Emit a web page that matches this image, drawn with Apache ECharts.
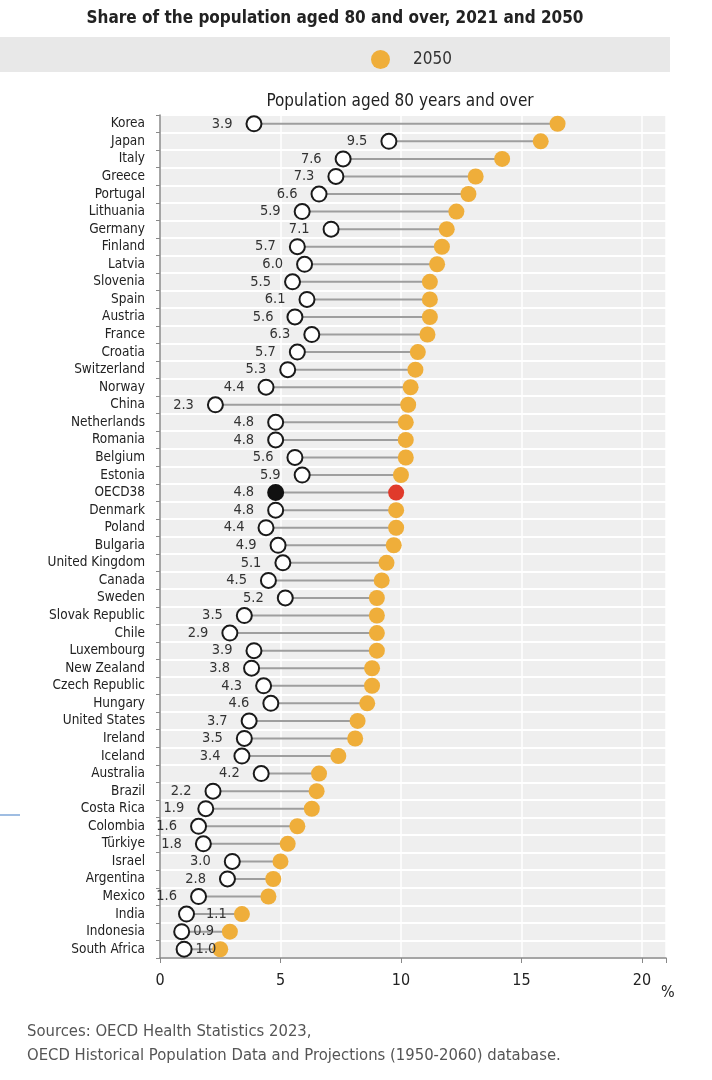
<!DOCTYPE html>
<html>
<head>
<meta charset="utf-8">
<script src="https://cdn.jsdelivr.net/npm/echarts@6/dist/echarts.min.js"></script>
<style>html,body{margin:0;padding:0;background:#fff}#c{width:712px;height:1080px}</style>
</head>
<body>
<div id="c"></div>
<script>
const countries = ["Korea","Japan","Italy","Greece","Portugal","Lithuania","Germany","Finland","Latvia","Slovenia","Spain","Austria","France","Croatia","Switzerland","Norway","China","Netherlands","Romania","Belgium","Estonia","OECD38","Denmark","Poland","Bulgaria","United Kingdom","Canada","Sweden","Slovak Republic","Chile","Luxembourg","New Zealand","Czech Republic","Hungary","United States","Ireland","Iceland","Australia","Brazil","Costa Rica","Colombia","Türkiye","Israel","Argentina","Mexico","India","Indonesia","South Africa"];
const v2021 = [3.9,9.5,7.6,7.3,6.6,5.9,7.1,5.7,6.0,5.5,6.1,5.6,6.3,5.7,5.3,4.4,2.3,4.8,4.8,5.6,5.9,4.8,4.8,4.4,4.9,5.1,4.5,5.2,3.5,2.9,3.9,3.8,4.3,4.6,3.7,3.5,3.4,4.2,2.2,1.9,1.6,1.8,3.0,2.8,1.6,1.1,0.9,1.0];
const v2050 = [16.5,15.8,14.2,13.1,12.8,12.3,11.9,11.7,11.5,11.2,11.2,11.2,11.1,10.7,10.6,10.4,10.3,10.2,10.2,10.2,10.0,9.8,9.8,9.8,9.7,9.4,9.2,9.0,9.0,9.0,9.0,8.8,8.8,8.6,8.2,8.1,7.4,6.6,6.5,6.3,5.7,5.3,5.0,4.7,4.5,3.4,2.9,2.5];
const xTicks = [0,5,10,15,20];
const highlight = "OECD38";
const rightLabelled = {"India":11, "Indonesia":3, "South Africa":3};

const FONT = '"DejaVu Sans Condensed","Roboto",sans-serif';
const chart = echarts.init(document.getElementById('c'));

const d2021 = countries.map((c,i)=>{
  const o = {value:[v2021[i], c]};
  if (c===highlight) o.itemStyle = {color:'#111', borderColor:'#111'};
  if (c in rightLabelled) o.label = {position:'right', distance:rightLabelled[c]};
  return o;
});
const d2050 = countries.map((c,i)=>{
  const o = {value:[v2050[i], c]};
  if (c===highlight) o.itemStyle = {color:'#E03A2B'};
  return o;
});
const dLines = countries.map((c,i)=>[v2021[i], v2050[i], c]);

chart.setOption({
  animation:false,
  backgroundColor:'#fff',
  title:[
    {text:'Share of the population aged 80 and over, 2021 and 2050', left:330, top:5, textAlign:'center',
     textStyle:{fontFamily:FONT, fontWeight:'bold', fontSize:17, color:'#222'}},
    {text:'Population aged 80 years and over', left:395, top:88, textAlign:'center',
     textStyle:{fontFamily:FONT, fontWeight:'normal', fontSize:17, color:'#222'}}
  ],
  graphic:[
    {type:'rect', left:0, top:37, shape:{width:670, height:35}, style:{fill:'#E8E8E8'}, z:-1},
    {type:'line', shape:{x1:0,y1:815,x2:20,y2:815}, style:{stroke:'#7FA7D8', lineWidth:1.5}},
    {type:'text', left:661, top:985, style:{text:'%', font:'16px '+FONT, fill:'#222'}},
    {type:'text', left:27, top:1020, style:{text:'Sources: OECD Health Statistics 2023,\nOECD Historical Population Data and Projections (1950-2060) database.', font:'16.5px '+FONT, fill:'#555', lineHeight:24}}
  ],
  legend:{
    data:[{name:'2050', icon:'circle'}], left:366, top:45, itemWidth:19, itemHeight:19, itemGap:10,
    textStyle:{fontFamily:FONT, fontSize:17, color:'#333', padding:[0,0,0,18]}
  },
  grid:{left:160, right:46, top:115, bottom:122, backgroundColor:'#EFEFEF', show:true, borderWidth:0},
  xAxis:{
    type:'value', min:0, max:21, interval:5,
    axisLine:{show:true, lineStyle:{color:'#888', width:1.5}},
    axisTick:{show:true, length:5, lineStyle:{color:'#888'}},
    axisLabel:{fontFamily:FONT, fontSize:16, color:'#222', margin:15,
      formatter:v=> xTicks.includes(v) ? String(v) : ''},
    splitLine:{show:true, lineStyle:{color:'#fff', width:1.5}}
  },
  yAxis:{
    type:'category', data:countries, inverse:true,
    axisLine:{show:true, lineStyle:{color:'#888', width:1.5}},
    axisTick:{show:true, length:4, interval:0, lineStyle:{color:'#888'}},
    axisLabel:{fontFamily:FONT, fontSize:13.5, color:'#222', margin:15, interval:0},
    splitLine:{show:true, interval:0, lineStyle:{color:'#fff', width:2}}
  },
  series:[
    {
      type:'custom', name:'range', data:dLines, encode:{x:[0,1], y:2}, z:1,
      renderItem:(params, api)=>{
        const a = api.coord([api.value(0), api.value(2)]);
        const b = api.coord([api.value(1), api.value(2)]);
        return {type:'line', shape:{x1:a[0], y1:a[1], x2:b[0], y2:b[1]}, style:{stroke:'#9E9E9E', lineWidth:2}};
      }
    },
    {
      type:'scatter', name:'2021', data:d2021, symbolSize:15, z:3,
      itemStyle:{color:'#fff', borderColor:'#1a1a1a', borderWidth:2, opacity:1},
      label:{show:true, position:'left', distance:13, fontFamily:FONT, fontSize:14.5, color:'#333',
        formatter:p=>p.value[0].toFixed(1)}
    },
    {
      type:'scatter', name:'2050', data:d2050, symbolSize:16, z:2,
      itemStyle:{color:'#EFAE3A', opacity:1}
    }
  ]
});
</script>
</body>
</html>
